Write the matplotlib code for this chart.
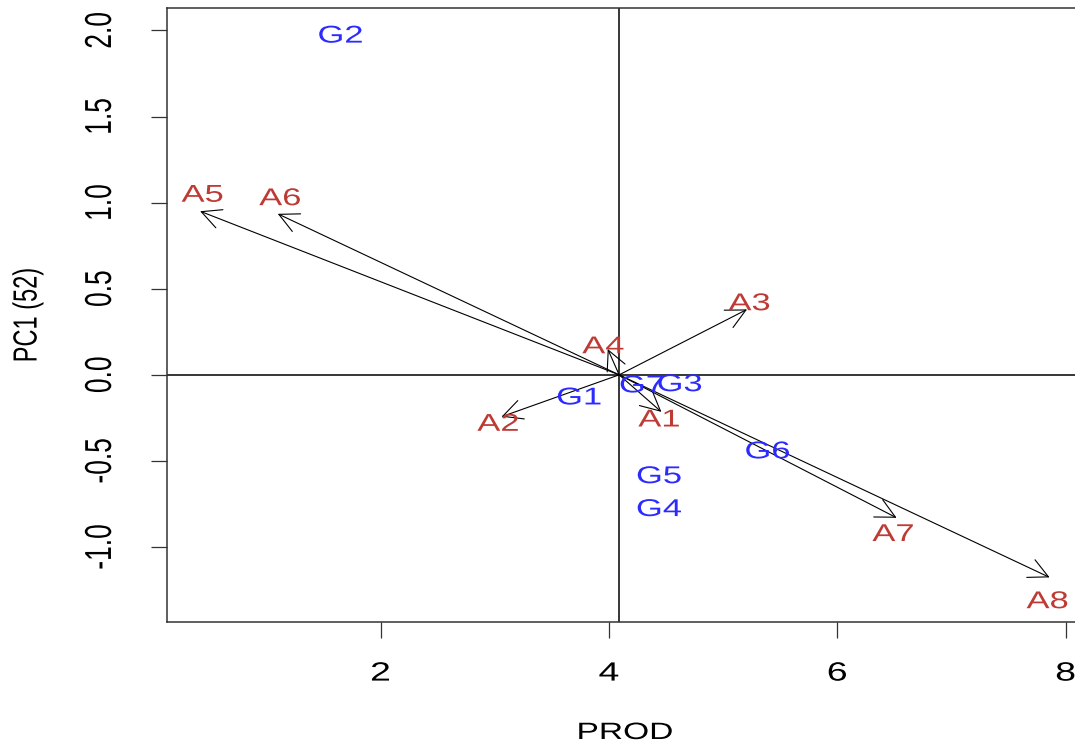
import matplotlib.pyplot as plt
from matplotlib.patches import FancyArrowPatch
from matplotlib.patheffects import AbstractPathEffect
from matplotlib.transforms import Affine2D

plt.rcParams['font.family'] = ['Liberation Sans', 'DejaVu Sans']

# environment vectors (arrow tips) and where their labels sit
env_names = ["A1", "A2", "A3", "A4", "A5", "A6", "A7", "A8"]
env_x = [4.46, 3.06, 5.21, 3.99, 0.42, 1.10, 6.52, 7.86]
env_y = [-0.215, -0.243, 0.38, 0.15, 0.95, 0.935, -0.83, -1.176]
env_lab_x = [4.44, 3.03, 5.23, 3.95, 0.44, 1.12, 6.49, 7.84]
env_lab_y = [-0.265, -0.29, 0.41, 0.16, 1.04, 1.02, -0.93, -1.32]

# genotype points
gen_names = ["G1", "G2", "G3", "G4", "G5", "G6", "G7"]
gen_x = [3.74, 1.65, 4.62, 4.44, 4.44, 5.39, 4.29]
gen_y = [-0.137, 1.964, -0.06, -0.785, -0.594, -0.45, -0.067]

origin_x, origin_y = 4.09, 0.0

red = "#BE3A34"
blue = "#2B2BFF"


class HStretch(AbstractPathEffect):
    """widen glyphs horizontally (the original image is stretched sideways)"""
    def __init__(self, sx=1.42):
        super().__init__()
        self.sx = sx

    def draw_path(self, renderer, gc, tpath, affine, rgbFace=None):
        v = affine.transform(tpath.vertices)
        if tpath.codes is not None:
            v = v[tpath.codes != 79]
        cx = 0.5 * (v[:, 0].min() + v[:, 0].max()) if len(v) else 0.0
        aff = affine + Affine2D().translate(-cx, 0).scale(self.sx, 1).translate(cx, 0)
        renderer.draw_path(gc, tpath, aff, rgbFace)


pe = [HStretch()]

fig = plt.figure(figsize=(10.75, 7.46), dpi=100)
ax = fig.add_axes([167 / 1075, 124 / 746, (1085 - 167) / 1075, (622 - 8) / 746])

ax.axvline(origin_x, color="black", lw=1.1)
ax.axhline(origin_y, color="black", lw=1.1)

for x, y in zip(env_x, env_y):
    arr = FancyArrowPatch((origin_x, origin_y), (x, y),
                          arrowstyle="->,head_length=14,head_width=7",
                          mutation_scale=1, shrinkA=0, shrinkB=0,
                          color="black", lw=0.8)
    ax.add_patch(arr)

for name, x, y in zip(env_names, env_lab_x, env_lab_y):
    ax.text(x, y, name, color=red, fontsize=17.5, ha="center", va="center",
            path_effects=pe)

for name, x, y in zip(gen_names, gen_x, gen_y):
    ax.text(x, y, name, color=blue, fontsize=17.5, ha="center", va="center",
            path_effects=pe)

ax.set_xlim(0.13, 8.17)
ax.set_ylim(-1.435, 2.13)
ax.set_xticks([2, 4, 6, 8])
ax.set_yticks([-1.0, -0.5, 0.0, 0.5, 1.0, 1.5, 2.0])
ax.set_yticklabels(["-1.0", "-0.5", "0.0", "0.5", "1.0", "1.5", "2.0"],
                   rotation=90, va="center")
ax.tick_params(length=11.5, width=0.9, labelsize=19, color="#333333")
ax.tick_params(axis="x", pad=17)
ax.tick_params(axis="y", pad=28)
for s in ax.spines.values():
    s.set_linewidth(1.1)
    s.set_color("#333333")

ax.set_xlabel("PROD", fontsize=17, va="center", path_effects=pe)
ax.set_ylabel("PC1 (52)", fontsize=17, va="center", path_effects=pe)
ax.xaxis.set_label_coords((625 - 167) / 918, (622 - 733) / 614)
ax.yaxis.set_label_coords((28 - 167) / 918, 0.5)

fig.canvas.draw()
for lab in ax.get_xticklabels() + ax.get_yticklabels():
    lab.set_path_effects(pe)

fig.savefig("out.png", dpi=100)
